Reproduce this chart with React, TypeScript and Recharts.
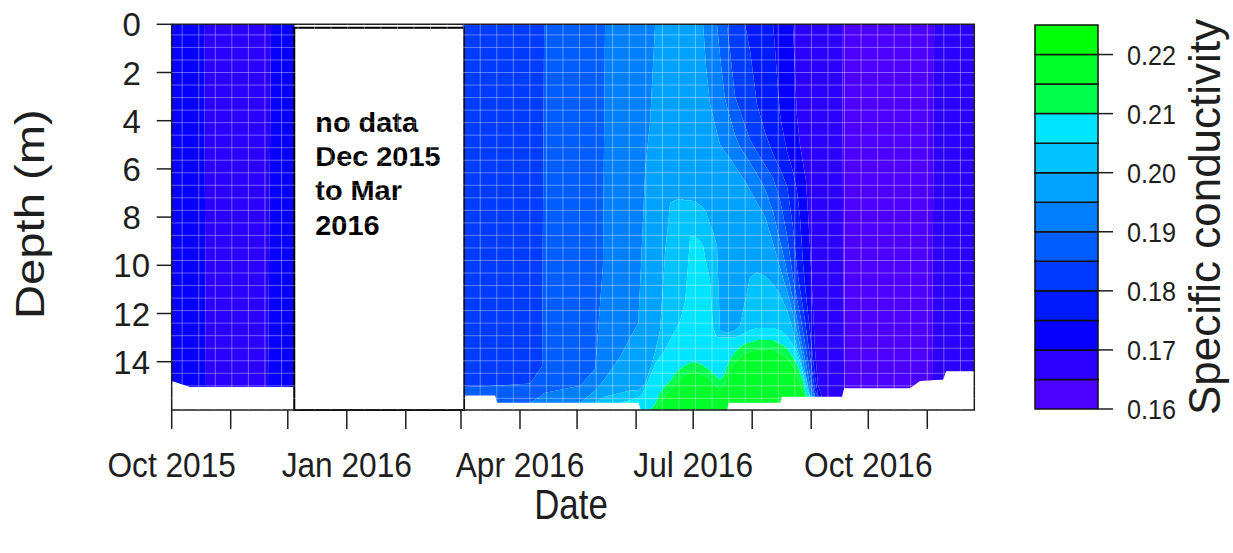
import React from 'react';
import { ComposedChart, Area, XAxis, YAxis, ReferenceArea, ReferenceLine, Label } from 'recharts';

const FONT = '"Liberation Sans", Arial, Helvetica, sans-serif';
const INK = '#1e1e1e';
const _ = null;

// sampling dates, days since 1 Oct 2015
const days = [
  0, 9.6, 17.0, 18.0, 50.6, 52.2, 64.3, 64.5, 152.8,
  153.0, 169.9, 171.0, 188.3, 194.6, 195.7, 214.6, 222.5, 226.6, 227.7,
  235.6, 240.9, 245.1, 246.6, 248.8, 251.4, 254.0, 256.6, 259.2, 261.9,
  264.5, 267.1, 269.8, 271.3, 272.4, 275.0, 277.6, 279.2, 280.8, 282.8,
  284.4, 286.5, 288.1, 290.7, 291.7, 292.8, 296.0, 298.6, 301.2, 303.9,
  307.5, 311.8, 316.0, 319.6, 320.7, 323.4, 326.4, 328.5, 330.1, 331.7,
  333.3, 335.4, 338.0, 339.6, 341.7, 352.2, 353.3, 387.9, 393.2, 399.5,
  400.6, 405.3, 406.9, 421.7,
];

// deepest measured depth (m) at each date; 0 = no data
const bottomDepth = [
  14.8, 15.05, 15.05, 15.05, 15.05, 15.05, 15.05, 0, 0,
  15.4, 15.4, 15.7, 15.7, 15.7, 15.7, 15.7, 15.7, 15.7, 15.7,
  15.7, 15.7, 15.7, 16, 16, 16, 16, 16, 16, 16,
  16, 16, 16, 16, 16, 16, 16, 16, 16, 16,
  16, 16, 16, 16, 16, 15.7, 15.7, 15.7, 15.7, 15.7,
  15.7, 15.7, 15.7, 15.7, 15.45, 15.45, 15.45, 15.45, 15.45, 15.45,
  15.45, 15.45, 15.45, 15.45, 15.45, 15.45, 15.1, 15.1, 14.8, 14.77,
  14.76, 14.75, 14.4, 14.4,
];

// depth (m) at which specific conductivity first reaches each contour level (null = not reached)
const iso165 = [
  0, 0, 0, 0, 0, 0, 0, 0, 0,
  0, 0, 0, 0, 0, 0, 0, 0, 0, 0,
  0, 0, 0, 0, 0, 0, 0, 0, 0, 0,
  0, 0, 0, 0, 0, 0, 0, 0, 0, 0,
  0, 0, 0, 0, 0, 0, 0, 0, 0, 0,
  0, 0, 0, 0, 0, 0, 0, 0, 0, 0,
  0, 0, 0, 0, 0, 0, _, _, _, _,
  0, 0, 0, 0,
];
const iso170 = [
  0, 0, 0, _, _, 0, 0, 0, 0,
  0, 0, 0, 0, 0, 0, 0, 0, 0, 0,
  0, 0, 0, 0, 0, 0, 0, 0, 0, 0,
  0, 0, 0, 0, 0, 0, 0, 0, 0, 0,
  0, 0, 0, 0, 0, 0, 0, 0, 0, 0,
  0, 0, 0, 0, 0, 0, 0, 3.8, 5.0, 5.75,
  6.5, 9.25, 13.5, 15.0, _, _, _, _, _, _,
  _, _, _, _,
];
const iso175 = [
  _, _, _, _, _, _, _, _, _,
  0, 0, 0, 0, 0, 0, 0, 0, 0, 0,
  0, 0, 0, 0, 0, 0, 0, 0, 0, 0,
  0, 0, 0, 0, 0, 0, 0, 0, 0, 0,
  0, 0, 0, 0, 0, 0, 0, 0, 0, 0,
  0, 0, 0, 3.75, 4.25, 5.3, 6.1, 6.9, 8.0, 9.9,
  11.25, 12.75, 14.6, 15.4, _, _, _, _, _, _,
  _, _, _, _,
];
const iso180 = [
  _, _, _, _, _, _, _, _, _,
  0, 0, 0, 0, 0, 0, 0, 0, 0, 0,
  0, 0, 0, 0, 0, 0, 0, 0, 0, 0,
  0, 0, 0, 0, 0, 0, 0, 0, 0, 0,
  0, 0, 0, 0, 0, 0, 0, 0, 0, 1.1,
  3.3, 4.5, 5.4, 6.0, 6.2, 6.75, 8.4, 10.1, 11.0, 11.75,
  12.6, 13.8, 15.2, _, _, _, _, _, _, _,
  _, _, _, _,
];
const iso185 = [
  _, _, _, _, _, _, _, _, _,
  15.05, 15.0, 15.0, 14.9, 14.2, 0, 0, 0, 0, 0,
  0, 0, 0, 0, 0, 0, 0, 0, 0, 0,
  0, 0, 0, 0, 0, 0, 0, 0, 0, 0,
  0, 0, 0, 0, 0, 0.75, 3.0, 3.6, 4.2, 4.8,
  5.3, 5.85, 6.4, 7.3, 7.7, 8.8, 10.5, 11.4, 12.0, 12.75,
  13.5, 14.5, _, _, _, _, _, _, _, _,
  _, _, _, _,
];
const iso190 = [
  _, _, _, _, _, _, _, _, _,
  _, _, _, _, 15.4, 15.3, 15.0, 14.3, 10.0, 0,
  0, 0, 0, 0, 0, 0, 0, 0, 0, 0,
  0, 0, 0, 0, 0, 0, 0, 0, 0, 0,
  0, 0, 1.3, 3.1, 3.4, 3.7, 4.6, 5.1, 5.4, 5.75,
  6.2, 6.85, 7.8, 9.0, 9.35, 10.3, 11.4, 12.2, 12.9, 13.5,
  14.1, 15.0, _, _, _, _, _, _, _, _,
  _, _, _, _,
];
const iso195 = [
  _, _, _, _, _, _, _, _, _,
  _, _, _, _, _, _, _, 15.2, 14.8, 14.7,
  13.8, 13.0, 12.4, 10.0, 6.0, 4.0, 0, 0, 0, 0,
  0, 0, 0, 0, 0, 0, 0, 0, 1.8, 3.3,
  3.8, 4.5, 5.0, 5.3, 5.4, 5.5, 5.9, 6.2, 6.5, 6.9,
  7.4, 8.0, 9.1, 10.1, 10.4, 11.1, 12.0, 12.75, 13.3, 13.9,
  14.6, 15.4, _, _, _, _, _, _, _, _,
  _, _, _, _,
];
const iso200 = [
  _, _, _, _, _, _, _, _, _,
  _, _, _, _, _, _, _, _, 15.5, 15.45,
  15.3, 15.2, 15.2, 15.1, 14.9, 14.3, 13.6, 12.7, 9.5, 7.4,
  7.3, 7.25, 7.3, 7.3, 7.3, 7.35, 7.5, 7.6, 7.8, 8.3,
  8.6, 9.2, 12.7, 12.8, 12.8, 12.8, 12.7, 12.5, 11.5, 10.5,
  10.3, 10.45, 10.8, 11.2, 11.4, 11.9, 12.7, 13.4, 13.8, 14.3,
  14.7, _, _, _, _, _, _, _, _, _,
  _, _, _, _,
];
const iso205 = [
  _, _, _, _, _, _, _, _, _,
  _, _, _, _, _, _, _, _, _, _,
  _, 15.6, 15.5, 15.4, 15.1, 14.6, 14.1, 13.8, 13.5, 13.1,
  12.7, 12.3, 11.5, 10.0, 8.8, 8.8, 9.0, 9.2, 9.9, 10.6,
  12.6, 13.0, 13.0, 13.0, 13.0, 13.0, 13.0, 12.9, 12.8, 12.7,
  12.6, 12.6, 12.6, 12.7, 12.75, 12.95, 13.3, 13.6, 14.0, 14.5,
  15.0, _, _, _, _, _, _, _, _, _,
  _, _, _, _,
];
const iso210 = [
  _, _, _, _, _, _, _, _, _,
  _, _, _, _, _, _, _, _, _, _,
  _, _, _, _, _, _, 15.75, 15.3, 15.0, 14.8,
  14.5, 14.3, 14.15, 14.1, 14.05, 14.0, 14.1, 14.15, 14.25, 14.35,
  14.5, 14.65, 14.75, 14.5, 14.2, 14.0, 13.6, 13.4, 13.25, 13.2,
  13.1, 13.1, 13.1, 13.25, 13.3, 13.45, 13.8, 14.1, 14.45, 14.8,
  15.4, _, _, _, _, _, _, _, _, _,
  _, _, _, _,
];
const iso215 = [
  _, _, _, _, _, _, _, _, _,
  _, _, _, _, _, _, _, _, _, _,
  _, _, _, _, _, _, _, 15.7, 15.4, 15.2,
  14.9, 14.7, 14.55, 14.5, 14.45, 14.4, 14.5, 14.55, 14.65, 14.75,
  14.9, 15.05, 15.15, 14.9, 14.6, 14.4, 14.0, 13.8, 13.65, 13.6,
  13.5, 13.5, 13.5, 13.65, 13.7, 13.85, 14.2, 14.5, 14.9, 15.3,
  _, _, _, _, _, _, _, _, _, _,
  _, _, _, _,
];

const levels = [0.16, 0.165, 0.17, 0.175, 0.18, 0.185, 0.19, 0.195, 0.2, 0.205, 0.21, 0.215, 0.22, 0.225];
const bandColors = [
  '#4C00FF', '#2B00FF', '#0800FF', '#0019FF', '#003BFF', '#005DFF', '#0080FF',
  '#00A2FF', '#00C3FF', '#00E5FF', '#00FF4D', '#00FF2B', '#00FF08',
];
const keyTicks = [0.16, 0.17, 0.18, 0.19, 0.2, 0.21, 0.22];
const monthTicks = [0, 31, 61, 92, 123, 152, 183, 213, 244, 274, 305, 336, 366, 397];
const monthLabels: Record<number, string> = { 0: 'Oct 2015', 92: 'Jan 2016', 183: 'Apr 2016', 274: 'Jul 2016', 366: 'Oct 2016' };
const depthTicks = [0, 2, 4, 6, 8, 10, 12, 14];
const dayDomain: [number, number] = [0, 421.7];
const noDataSpan = [64.4, 153.6];
const noDataLines = ['no data', 'Dec 2015', 'to Mar', '2016'];

const isolines = [iso165, iso170, iso175, iso180, iso185, iso190, iso195, iso200, iso205, iso210, iso215];
const bandKeys = bandColors.map((c, j) => `b${j}`);

const tableData = days.map((day, i) => {
  const bottom = bottomDepth[i];
  const cuts = [0];
  isolines.forEach((iso) => {
    const v = iso[i];
    const d = v == null ? bottom : Math.min(v as number, bottom);
    cuts.push(Math.max(d, cuts[cuts.length - 1]));
  });
  cuts.push(bottom);
  const row: Record<string, number> = { day };
  bandKeys.forEach((k, j) => {
    row[k] = j + 1 < cuts.length ? Math.max(0, cuts[j + 1] - cuts[j]) : 0;
  });
  return row;
});

// faint rendering seams of the original contour image
const gridDays: number[] = [];
for (let d = 5.5; d < dayDomain[1]; d += 8.7) gridDays.push(d);
const gridDepths: number[] = [];
for (let d = 0.44; d < 16; d += 0.52) gridDepths.push(d);

const XTick = (p: any) => {
  const label = monthLabels[p?.payload?.value];
  if (!label) return <g />;
  return (
    <text transform={`translate(${p.x},${p.y + 48}) scale(0.88,1)`} textAnchor="middle" fontSize={36} fontFamily={FONT} fill={INK}>
      {label}
    </text>
  );
};
const YTick = (p: any) => (
  <text x={p.x - 25} y={p.y + 12} textAnchor="middle" fontSize={33} fontFamily={FONT} fill={INK}>
    {p.payload.value}
  </text>
);
const KeyTick = (p: any) => (
  <text transform={`translate(${p.x + 14},${p.y + 10}) scale(0.9,1)`} textAnchor="start" fontSize={28} fontFamily={FONT} fill={INK}>
    {Number(p.payload.value).toFixed(2)}
  </text>
);

const renderDateTitle = (props: any) => {
  const vb = props.viewBox || {};
  const cx = (vb.x ?? 171.7) + (vb.width ?? 802.6) / 2;
  const top = vb.y ?? 409.9;
  return (
    <text transform={`translate(${cx - 2},${top + 109}) scale(0.83,1)`} textAnchor="middle" fontSize={42} fontFamily={FONT} fill={INK}>
      Date
    </text>
  );
};
const renderDepthTitle = (props: any) => {
  const vb = props.viewBox || {};
  const x = (vb.x ?? 71.7) - 27.7;
  const cy = (vb.y ?? 24.3) + (vb.height ?? 385.6) / 2 - 3;
  return (
    <text transform={`translate(${x},${cy}) rotate(-90) scale(1.18,1)`} textAnchor="middle" fontSize={40} fontFamily={FONT} fill={INK}>
      Depth (m)
    </text>
  );
};
const renderKeyTitle = (props: any) => {
  const vb = props.viewBox || {};
  const x = (vb.x ?? 1098) + 122;
  const cy = (vb.y ?? 25) + (vb.height ?? 384) / 2;
  return (
    <text transform={`translate(${x},${cy}) rotate(-90)`} textAnchor="middle" fontSize={44} fontFamily={FONT} fill={INK}>
      Specific conductivity
    </text>
  );
};
const renderNoData = (props: any) => {
  const vb = props.viewBox || {};
  const x0 = (vb.x ?? 294.3) + 21;
  const y0 = (vb.y ?? 27.7) + 104;
  return (
    <g>
      {noDataLines.map((t, i) => (
        <text key={t} transform={`translate(${x0},${y0 + 34.4 * i}) scale(1.07,1)`} fontSize={27} fontWeight="bold" fontFamily={FONT} fill="#000">
          {t}
        </text>
      ))}
    </g>
  );
};

const keyFrame = [{ k: 0 }, { k: 1 }];

export default function App() {
  return (
    <div style={{ position: 'absolute', left: 0, top: 0, width: 1233, height: 553, background: '#fff', overflow: 'hidden' }}>
      <div style={{ position: 'absolute', left: 0, top: 0 }}>
        <ComposedChart width={1233} height={553} data={tableData} margin={{ top: 24.3, right: 258.7, bottom: 83.1, left: 71.7 }}>
          <XAxis
            type="number"
            dataKey="day"
            domain={dayDomain}
            ticks={monthTicks}
            interval={0}
            allowDataOverflow
            height={60}
            tickSize={19}
            tickMargin={0}
            axisLine={false}
            tickLine={{ stroke: INK, strokeWidth: 1.5 }}
            tick={(p: any) => <XTick {...p} />}
          >
            <Label content={renderDateTitle} />
          </XAxis>
          <YAxis
            type="number"
            domain={[0, 16]}
            reversed
            ticks={depthTicks}
            interval={0}
            allowDataOverflow
            width={100}
            tickSize={15}
            tickMargin={0}
            axisLine={false}
            tickLine={{ stroke: INK, strokeWidth: 1.5 }}
            tick={(p: any) => <YTick {...p} />}
          >
            <Label content={renderDepthTitle} />
          </YAxis>
          {bandKeys.map((k, j) => (
            <Area
              key={k}
              dataKey={k}
              stackId="profile"
              type="linear"
              fill={bandColors[j]}
              fillOpacity={1}
              stroke="none"
              dot={false}
              activeDot={false}
              isAnimationActive={false}
            />
          ))}
          {gridDays.map((d) => (
            <ReferenceLine key={`gx${d}`} x={d} stroke="#ffffff" strokeOpacity={0.36} strokeWidth={1} />
          ))}
          {gridDepths.map((d) => (
            <ReferenceLine key={`gy${d}`} y={d} stroke="#ffffff" strokeOpacity={0.36} strokeWidth={1} />
          ))}
          <ReferenceArea
            x1={noDataSpan[0]}
            x2={noDataSpan[1]}
            y1={0.14}
            y2={16}
            fill="#ffffff"
            fillOpacity={1}
            stroke="#000"
            strokeWidth={2}
            label={renderNoData}
          />
          <ReferenceArea x1={dayDomain[0]} x2={dayDomain[1]} y1={0} y2={16} fill="none" fillOpacity={0} stroke={INK} strokeWidth={1.5} />
        </ComposedChart>
      </div>
      <div style={{ position: 'absolute', left: 0, top: 0 }}>
        <ComposedChart width={1233} height={553} data={keyFrame} margin={{ top: 25, right: 35, bottom: 144, left: 1035 }}>
          <XAxis type="number" dataKey="k" domain={[0, 1]} hide />
          <YAxis
            orientation="right"
            type="number"
            domain={[0.16, 0.225]}
            ticks={keyTicks}
            interval={0}
            allowDataOverflow
            width={100}
            tickSize={15}
            tickMargin={0}
            axisLine={false}
            tickLine={{ stroke: INK, strokeWidth: 1.5 }}
            tick={(p: any) => <KeyTick {...p} />}
          >
            <Label content={renderKeyTitle} />
          </YAxis>
          {bandColors.map((c, j) => (
            <ReferenceArea key={c} y1={levels[j]} y2={levels[j + 1]} fill={c} fillOpacity={1} stroke="#111" strokeWidth={1.5} />
          ))}
        </ComposedChart>
      </div>
    </div>
  );
}
